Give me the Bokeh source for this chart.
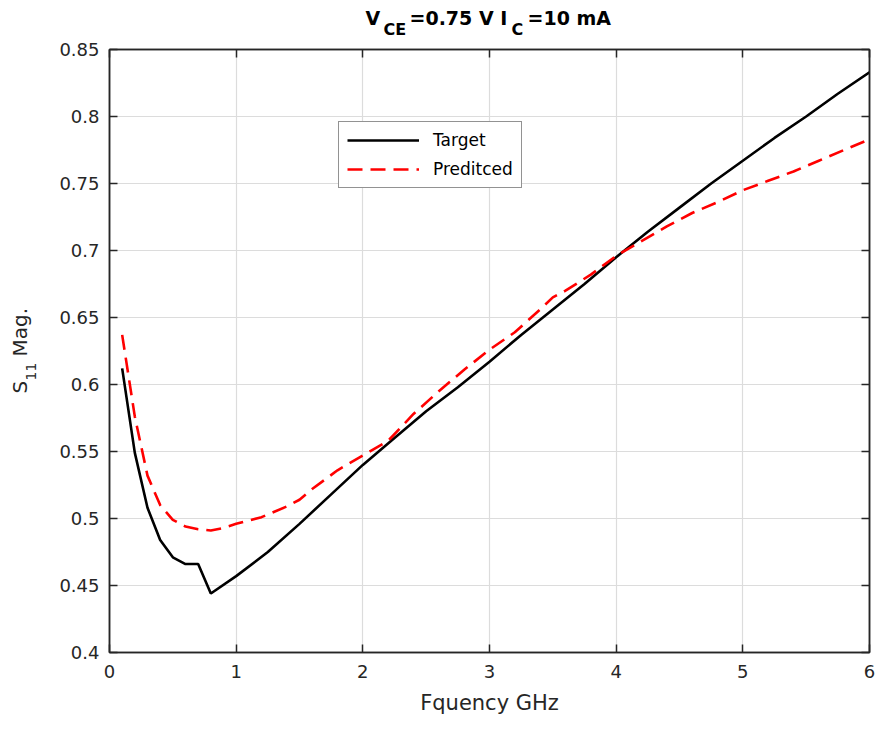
from bokeh.plotting import figure
from bokeh.layouts import column, row
from bokeh.models import (FixedTicker, LinearAxis, Range1d,
                          CustomJSTickFormatter, Legend, LegendItem)
from bokeh.core.properties import value
from bokeh.embed import file_html
from bokeh.resources import INLINE

# ---------------- data ----------------
target_f = [0.1, 0.2, 0.3, 0.4, 0.5, 0.6, 0.7, 0.8, 1.0, 1.25, 1.5, 1.75, 2.0,
            2.25, 2.5, 2.75, 3.0, 3.25, 3.5, 3.75, 4.0, 4.25, 4.5, 4.75, 5.0,
            5.25, 5.5, 5.75, 6.0]
target_s = [0.612, 0.549, 0.508, 0.484, 0.471, 0.466, 0.466, 0.444, 0.457,
            0.475, 0.496, 0.518, 0.540, 0.560, 0.580, 0.598, 0.617, 0.637,
            0.656, 0.675, 0.695, 0.714, 0.732, 0.750, 0.767, 0.784, 0.800,
            0.817, 0.833]

pred_f = [0.1, 0.2, 0.3, 0.4, 0.5, 0.6, 0.7, 0.8, 0.9, 1.0, 1.2, 1.4, 1.5,
          1.6, 1.8, 2.0, 2.2, 2.4, 2.6, 2.8, 3.0, 3.2, 3.4, 3.5, 3.6, 3.8,
          4.0, 4.2, 4.4, 4.6, 4.8, 5.0, 5.2, 5.4, 5.6, 5.8, 6.0]
pred_s = [0.637, 0.576, 0.532, 0.510, 0.499, 0.494, 0.492, 0.491, 0.493,
          0.496, 0.501, 0.509, 0.514, 0.522, 0.536, 0.547, 0.558, 0.578,
          0.595, 0.611, 0.626, 0.639, 0.656, 0.665, 0.670, 0.682, 0.696,
          0.707, 0.718, 0.728, 0.736, 0.745, 0.752, 0.759, 0.767, 0.775,
          0.783]

x_ticks = [0, 1, 2, 3, 4, 5, 6]
x_tick_labels = ["0", "1", "2", "3", "4", "5", "6"]
y_ticks = [0.4, 0.45, 0.5, 0.55, 0.6, 0.65, 0.7, 0.75, 0.8, 0.85]
y_tick_labels = ["0.4", "0.45", "0.5", "0.55", "0.6", "0.65", "0.7", "0.75",
                 "0.8", "0.85"]

series_names = ["Target", "Preditced"]
x_label = "Fquency GHz"
title_texts = ["V", "CE", "=0.75 V I", "C", "=10 mA"]
ylabel_texts = ["S", "11", "Mag."]

# ---------------- layout ----------------
W, H = 877, 731
L, R, T, B = 109, 8, 49, 79
TH = 38                      # height of the title strip
YL = 50                      # width of the y-label strip
XMIN, XMAX, YMIN, YMAX = 0, 6, 0.4, 0.85
FH = H - T - B
SHIFT = 8                    # renderer's baseline offset (px)

AX = "#262626"
GRID = "#dcdcdc"
FONT = "DejaVu Sans"


def page_to_y(py):
    return YMAX - (py - T) / FH * (YMAX - YMIN)


def blank_fig(w, h, yr):
    f = figure(width=w, height=h, output_backend="svg", toolbar_location=None,
               x_range=Range1d(0, w), y_range=yr,
               x_axis_location=None, y_axis_location=None, min_border=0)
    f.outline_line_color = None
    f.xgrid.visible = False
    f.ygrid.visible = False
    f.background_fill_color = "white"
    f.border_fill_color = "white"
    return f


# ---- main plot ----
p = figure(width=W - YL, height=H - TH, output_backend="svg",
           toolbar_location=None,
           x_range=Range1d(XMIN, XMAX), y_range=Range1d(YMIN, YMAX),
           min_border_left=L - YL, min_border_right=R, min_border_top=T - TH,
           min_border_bottom=B)
p.background_fill_color = "white"
p.border_fill_color = "white"
p.outline_line_color = AX
p.outline_line_width = 1.5


def style_axis(ax, ticks, labels, standoff):
    ax.ticker = FixedTicker(ticks=ticks)
    if labels is not None:
        ax.major_label_overrides = {t: l for t, l in zip(ticks, labels)}
    ax.major_tick_in = 8
    ax.major_tick_out = 0
    ax.minor_tick_in = 0
    ax.minor_tick_out = 0
    ax.major_tick_line_color = AX
    ax.major_tick_line_width = 1.5
    ax.axis_line_color = AX
    ax.axis_line_width = 1.5
    ax.major_label_standoff = standoff
    ax.major_label_text_font = FONT
    ax.major_label_text_font_size = "18px"
    ax.major_label_text_color = AX


style_axis(p.xaxis[0], x_ticks, x_tick_labels, 12)
style_axis(p.yaxis[0], y_ticks, y_tick_labels, 10)
p.xaxis.axis_label = x_label
p.xaxis.axis_label_text_font = FONT
p.xaxis.axis_label_text_font_size = "21px"
p.xaxis.axis_label_text_font_style = "normal"
p.xaxis.axis_label_text_color = AX
p.xaxis.axis_label_standoff = 10

for loc, ticks in (("above", x_ticks), ("right", y_ticks)):
    ax = LinearAxis(formatter=CustomJSTickFormatter(code="return ''"))
    style_axis(ax, ticks, None, 0)
    ax.major_label_text_font_size = "1px"
    p.add_layout(ax, loc)

p.xgrid.ticker = FixedTicker(ticks=x_ticks)
p.ygrid.ticker = FixedTicker(ticks=y_ticks)
for g in (p.xgrid, p.ygrid):
    g.grid_line_color = GRID
    g.grid_line_width = 1.2

r1 = p.line(target_f, target_s, line_color="black", line_width=2.6)
r2 = p.line(pred_f, pred_s, line_color="#ff0000", line_width=2.6,
            line_dash="15 8")

legend = Legend(items=[LegendItem(label=series_names[0], renderers=[r1]),
                       LegendItem(label=series_names[1], renderers=[r2])],
                location=(229, 464), padding=8, spacing=9,
                glyph_width=72, glyph_height=20, label_height=20,
                label_standoff=14, label_text_font=FONT,
                label_text_font_size="17px", label_text_color="black",
                border_line_color=AX, border_line_width=1.2,
                background_fill_color="white", background_fill_alpha=1.0,
                margin=0)
p.add_layout(legend)

# ---- title strip: positions as page pixels (x from left, y from top) ----
tf = blank_fig(W, TH, Range1d(0, TH))
title_x = [365, 383, 409, 511, 527]
title_base = [25, 37, 25, 37, 25]
title_size = ["19px", "16px", "19px", "16px", "19px"]
for txt, x, y, fs in zip(title_texts, title_x, title_base, title_size):
    tf.text(x=[x], y=[TH - (y - SHIFT)], text=[txt], text_font=value(FONT),
            text_font_size=fs, text_font_style="bold", text_color="black",
            text_align="left", text_baseline="alphabetic")

# ---- y-label strip: shares the main y range (frames are aligned) ----
yf = blank_fig(YL, H - TH, p.y_range)
yf.min_border_top = T - TH
yf.min_border_bottom = B
yl_x = [28, 39, 28]
yl_y = [393, 380, 356]
yl_size = ["20px", "14px", "20px"]
for txt, x, y, fs in zip(ylabel_texts, yl_x, yl_y, yl_size):
    yf.text(x=[x - SHIFT - 1], y=[page_to_y(y)], text=[txt],
            text_font=value(FONT), text_font_size=fs, text_color=AX,
            angle=1.5707963, text_align="left", text_baseline="alphabetic")

layout = column(tf, row(yf, p, spacing=0), spacing=0)

open("out.html", "w").write(file_html(layout, INLINE))
